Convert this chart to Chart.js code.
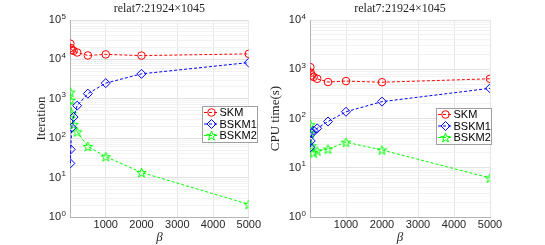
<!DOCTYPE html>
<html>
<head>
<meta charset="utf-8">
<script src="https://cdn.jsdelivr.net/npm/chart.js@4.4.1/dist/chart.umd.min.js"></script>
<style>
body { margin: 0; background: #fff; width: 545px; height: 245px; position: relative; overflow: hidden; }
canvas { position: absolute; top: 0; }
#iterChart { left: 0; }
#cpuChart { left: 262px; }
</style>
</head>
<body>
<canvas id="iterChart" width="262" height="245"></canvas>
<canvas id="cpuChart" width="283" height="245"></canvas>
<script>
// data
const betas = [10, 20, 50, 100, 200, 500, 1000, 2000, 5000];
const seriesNames = ['SKM', 'BSKM1', 'BSKM2'];

const iterSKM   = [25000, 19500, 17500, 16500, 15000, 12600, 13400, 12500, 13800];
const iterBSKM1 = [23, 52, 186, 345, 670, 1350, 2500, 4300, 8300];
const iterBSKM2 = [1480, 920, 425, 225, 145, 62, 34, 13.5, 2.1];

const cpuSKM   = [1100, 850, 750, 700, 640, 550, 575, 545, 640];
const cpuBSKM1 = [26, 35, 50, 57, 63, 87, 137, 220, 410];
const cpuBSKM2 = [75, 50, 28, 20, 22, 24, 33, 23, 6.2];

const xTicks = [0, 1000, 2000, 3000, 4000, 5000];
const iterDecades = [0, 1, 2, 3, 4, 5];
const cpuDecades = [0, 1, 2, 3, 4];
const chartTitle = 'relat7:21924\u00d71045';

const TEXT = '#262626';

function isPow10(v) {
    const e = Math.log10(v);
    return Math.abs(e - Math.round(e)) < 1e-9;
}

// log ticks like matlab: 1..9 per decade
function logTicks(decades) {
    const out = [];
    for (let k = 0; k < decades.length; k++) {
        const p = Math.pow(10, decades[k]);
        out.push({value: p});
        if (k < decades.length - 1) {
            for (let m = 2; m <= 9; m++) out.push({value: m * p});
        }
    }
    return out;
}

// pentagram marker
function makeStar(color, r) {
    const c = document.createElement('canvas');
    const s = Math.ceil(r * 2 + 3);
    c.width = s; c.height = s;
    const g = c.getContext('2d');
    g.strokeStyle = color;
    g.lineWidth = 1;
    g.beginPath();
    for (let i = 0; i < 10; i++) {
        const rr = i % 2 === 0 ? r : r * 0.4;
        const a = -Math.PI / 2 + i * Math.PI / 5;
        const px = s / 2 + rr * Math.cos(a), py = s / 2 + rr * Math.sin(a) + 0.5;
        if (i === 0) g.moveTo(px, py); else g.lineTo(px, py);
    }
    g.closePath();
    g.stroke();
    return c;
}

const colors = ['#ff0000', '#0000ff', '#00ff00'];
const styles = ['circle', 'rectRot', makeStar('#00ff00', 5)];
const radii = [3.8, 4.5, 5];

function buildDatasets(vals) {
    return seriesNames.map((name, i) => ({
        label: name,
        data: betas.map((b, j) => ({x: b, y: vals[i][j]})),
        borderColor: colors[i],
        backgroundColor: 'rgba(0,0,0,0)',
        borderWidth: 1,
        borderDash: [3, 2],
        pointStyle: styles[i],
        pointRadius: radii[i],
        pointBorderColor: colors[i],
        pointBackgroundColor: 'rgba(0,0,0,0)',
        pointBorderWidth: 1,
        fill: false,
        tension: 0
    }));
}

function drawMarker(ctx, ds, x, y) {
    const st = ds.pointStyle, r = ds.pointRadius;
    ctx.strokeStyle = ds.pointBorderColor;
    ctx.lineWidth = 1;
    if (st instanceof HTMLCanvasElement) {
        ctx.drawImage(st, x - st.width / 2, y - st.height / 2);
        return;
    }
    ctx.beginPath();
    if (st === 'circle') {
        ctx.arc(x, y, r, 0, Math.PI * 2);
    } else {
        ctx.moveTo(x - r, y); ctx.lineTo(x, y - r); ctx.lineTo(x + r, y); ctx.lineTo(x, y + r);
        ctx.closePath();
    }
    ctx.stroke();
}

// title centred over the axes box + exponents of the y tick labels
const titlePlugin = {
    id: 'axTitle',
    afterDraw(chart, args, opts) {
        const {ctx, chartArea} = chart;
        const y = chart.scales.y;
        ctx.save();
        ctx.font = '12px "Liberation Serif"';
        ctx.fillStyle = TEXT;
        ctx.textAlign = 'center';
        ctx.textBaseline = 'middle';
        ctx.fillText(opts.text, (chartArea.left + chartArea.right) / 2, 8.5);

        ctx.font = '8px "Liberation Sans"';
        ctx.textAlign = 'left';
        ctx.textBaseline = 'alphabetic';
        y.ticks.forEach(t => {
            if (!isPow10(t.value)) return;
            const py = y.getPixelForValue(t.value);
            ctx.fillText(String(Math.round(Math.log10(t.value))), chartArea.left - 8.5, py - 1.5);
        });
        ctx.restore();
    }
};

// boxed legend inside the axes
const legendPlugin = {
    id: 'boxLegend',
    afterDatasetsDraw(chart, args, opts) {
        const {ctx, chartArea} = chart;
        const x0 = Math.round(chartArea.left + opts.dx), y0 = Math.round(chartArea.top + opts.dy);
        const rowH = 11.5, h = Math.round(rowH * 3 + 1);
        ctx.save();
        ctx.fillStyle = '#fff';
        ctx.fillRect(x0, y0, opts.w, h);
        ctx.strokeStyle = '#a0a0a0';
        ctx.lineWidth = 1;
        ctx.strokeRect(x0 + 0.5, y0 + 0.5, opts.w, h);
        ctx.font = '11px "Liberation Sans"';
        ctx.textBaseline = 'middle';
        chart.data.datasets.forEach((ds, i) => {
            const cy = y0 + 6.5 + i * rowH;
            ctx.strokeStyle = ds.borderColor;
            ctx.setLineDash(ds.borderDash);
            ctx.beginPath();
            ctx.moveTo(x0 + 2, cy);
            ctx.lineTo(x0 + 17, cy);
            ctx.stroke();
            ctx.setLineDash([]);
            drawMarker(ctx, ds, x0 + 9.5, cy);
            ctx.fillStyle = '#000';
            ctx.fillText(ds.label, x0 + 17.5, cy + 0.5);
        });
        ctx.restore();
    }
};

function makeChart(id, vals, cfg) {
    const yMax = Math.pow(10, cfg.decades[cfg.decades.length - 1]);
    return new Chart(document.getElementById(id), {
        type: 'line',
        data: { datasets: buildDatasets(vals) },
        options: {
            responsive: false,
            animation: false,
            devicePixelRatio: 1,
            layout: { padding: { top: 20, right: cfg.padRight, left: 0, bottom: 0 } },
            plugins: {
                legend: { display: false },
                tooltip: { enabled: false },
                axTitle: { text: chartTitle },
                boxLegend: { dx: cfg.legX, dy: cfg.legY, w: cfg.legW }
            },
            scales: {
                x: {
                    type: 'linear',
                    min: 0,
                    max: 5000,
                    afterFit: s => { s.height = 28; },
                    afterBuildTicks: s => { s.ticks = xTicks.map(v => ({value: v})); },
                    ticks: {
                        callback: v => v === 0 ? '' : String(v),
                        font: { family: 'Liberation Sans', size: 11 },
                        color: TEXT,
                        padding: 1,
                        maxRotation: 0,
                        autoSkip: false
                    },
                    grid: { color: '#e6e6e6', drawTicks: false },
                    border: { color: '#b4b4b4' },
                    title: {
                        display: true,
                        text: '\u03b2',
                        color: TEXT,
                        font: { family: 'Liberation Serif', size: 13, style: 'italic' },
                        padding: { top: 0, bottom: 0 }
                    }
                },
                y: {
                    type: 'logarithmic',
                    min: 1,
                    max: yMax,
                    afterFit: s => { s.width = cfg.areaLeft; },
                    afterBuildTicks: s => { s.ticks = logTicks(cfg.decades); },
                    ticks: {
                        callback: v => isPow10(v) ? '10' : '',
                        font: { family: 'Liberation Sans', size: 11 },
                        color: TEXT,
                        padding: 9,
                        autoSkip: false
                    },
                    grid: {
                        color: c => isPow10(c.tick.value) ? '#e3e3e3' : '#f2f2f2',
                        drawTicks: false
                    },
                    border: { color: '#b4b4b4' },
                    title: {
                        display: true,
                        text: cfg.yTitle,
                        color: TEXT,
                        font: { family: 'Liberation Serif', size: 13 },
                        padding: { top: cfg.yTitlePad, bottom: 0 }
                    }
                }
            }
        },
        plugins: [titlePlugin, legendPlugin]
    });
}

makeChart('iterChart', [iterSKM, iterBSKM1, iterBSKM2], {
    decades: iterDecades, areaLeft: 70, padRight: 12,
    yTitle: 'Iteration', yTitlePad: 34,
    legX: 132, legY: 86, legW: 55
});

makeChart('cpuChart', [cpuSKM, cpuBSKM1, cpuBSKM2], {
    decades: cpuDecades, areaLeft: 48, padRight: 55,
    yTitle: 'CPU time(s)', yTitlePad: 6,
    legX: 126, legY: 88, legW: 55
});
</script>
</body>
</html>
